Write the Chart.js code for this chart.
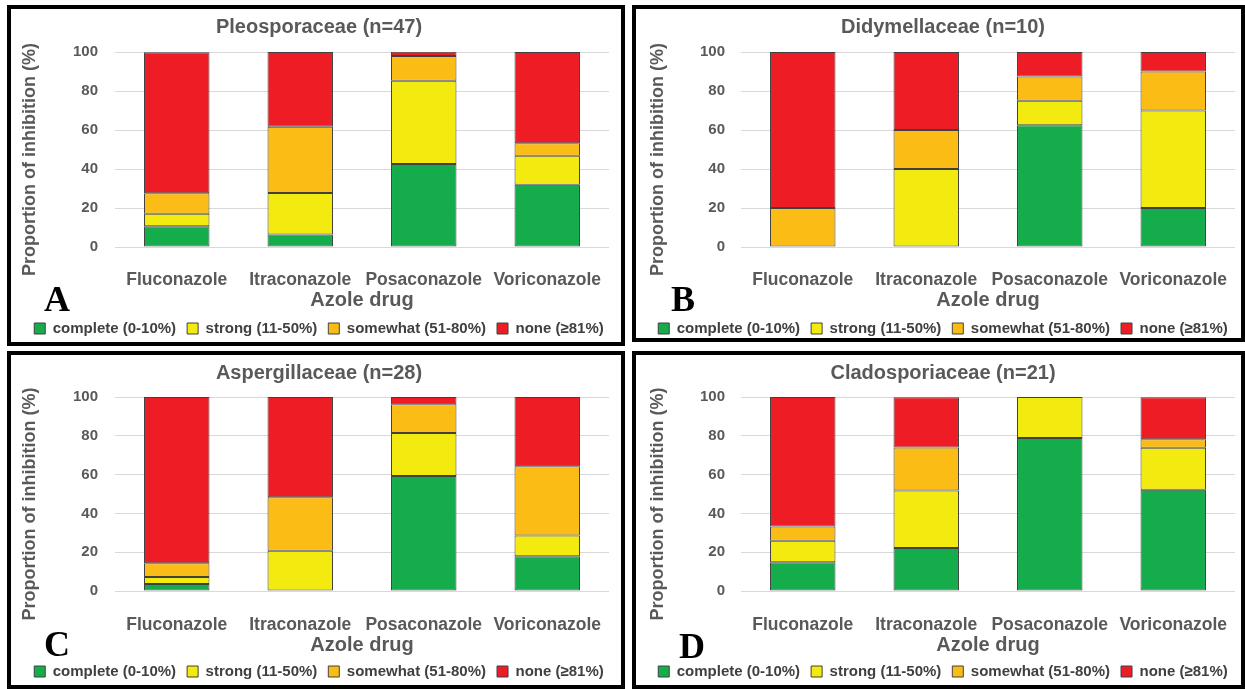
<!DOCTYPE html>
<html>
<head>
<meta charset="utf-8">
<script src="https://cdn.jsdelivr.net/npm/chart.js@4.4.1/dist/chart.umd.min.js"></script>
<style>
body{margin:0;background:#fff;width:1245px;height:689px;overflow:hidden;position:relative;font-family:'Liberation Sans',Arial,sans-serif}
.frame{position:absolute;box-sizing:border-box;border:4px solid #000}
canvas{position:absolute}
.tag{position:absolute;font-family:'Liberation Serif','Times New Roman',serif;font-weight:bold;font-size:36px;line-height:1;color:#000}
</style>
</head>
<body>
<div class="frame" style="left:7px;top:5px;width:618px;height:341px"></div>
<div class="frame" style="left:632px;top:5px;width:613px;height:337px"></div>
<div class="frame" style="left:7px;top:351px;width:618px;height:338px"></div>
<div class="frame" style="left:632px;top:351px;width:613px;height:338px"></div>

<canvas id="cA" width="638" height="346" style="left:0;top:0"></canvas>
<canvas id="cB" width="604" height="346" style="left:641px;top:0"></canvas>
<canvas id="cC" width="638" height="343" style="left:0;top:346px"></canvas>
<canvas id="cD" width="604" height="343" style="left:641px;top:346px"></canvas>

<div class="tag" style="left:44px;top:281px">A</div>
<div class="tag" style="left:671px;top:281px">B</div>
<div class="tag" style="left:44px;top:626px">C</div>
<div class="tag" style="left:679px;top:628px">D</div>

<script>
// categories and legend entries
const drugs = ['Fluconazole', 'Itraconazole', 'Posaconazole', 'Voriconazole'];
const levels = ['complete (0-10%)', 'strong (11-50%)', 'somewhat (51-80%)', 'none (\u226581%)'];
const levelColors = ['#15ad4c', '#f3ea0f', '#fbbd15', '#ee1d25'];

// percent of isolates per inhibition level, one value per drug
const pleoComplete = [10.6, 6.4, 42.6, 31.9];
const pleoStrong   = [6.4, 21.3, 42.6, 14.9];
const pleoSomewhat = [10.6, 34.0, 12.8, 6.4];
const pleoNone     = [72.3, 38.3, 2.1, 46.8];

const didyComplete = [0, 0, 62.5, 20];
const didyStrong   = [0, 40, 12.5, 50];
const didySomewhat = [20, 20, 12.5, 20];
const didyNone     = [80, 40, 12.5, 10];

const aspeComplete = [3.6, 0, 59.3, 17.9];
const aspeStrong   = [3.6, 20.7, 22.2, 10.7];
const aspeSomewhat = [7.1, 27.6, 14.8, 35.7];
const aspeNone     = [85.7, 51.7, 3.7, 35.7];

const cladComplete = [14.8, 22.2, 78.9, 52.2];
const cladStrong   = [11.1, 29.6, 21.1, 21.7];
const cladSomewhat = [7.4, 22.2, 0, 4.3];
const cladNone     = [66.7, 25.9, 0, 21.7];

const yTicks = [0, 20, 40, 60, 80, 100];

const grey = '#595959';
const fam = "'Liberation Sans', Arial, sans-serif";

/*
 * makePanel : draws one stacked bar chart
 * g holds the layout numbers for that canvas
 **/
function makePanel(id, title, series, g) {
  new Chart(document.getElementById(id), {
    type: 'bar',
    data: {
      labels: drugs,
      datasets: series.map((vals, i) => ({
        label: levels[i],
        data: vals,
        backgroundColor: levelColors[i],
        borderColor: '#404040',
        borderWidth: 1,
        borderSkipped: false,
        barPercentage: 0.53,
        categoryPercentage: 1
      }))
    },
    options: {
      responsive: false,
      animation: false,
      layout: { padding: 0 },
      plugins: {
        title: {
          display: true,
          text: title,
          color: grey,
          font: { family: fam, size: 20, weight: 'bold' },
          padding: { top: g.titleTop, bottom: g.titleBottom }
        },
        legend: {
          position: 'bottom',
          labels: {
            color: '#404040',
            boxWidth: 11,
            boxHeight: 11,
            padding: 11,
            font: { family: fam, size: 15, weight: 'bold' }
          }
        },
        tooltip: { enabled: false }
      },
      scales: {
        x: {
          stacked: true,
          grid: { display: false },
          border: { display: false },
          ticks: { color: grey, padding: g.xTickPad, font: { family: fam, size: 17.5, weight: 'bold' } },
          title: {
            display: true,
            text: 'Azole drug',
            color: grey,
            font: { family: fam, size: 20, weight: 'bold' },
            padding: { top: 0, bottom: g.xTitleBottom }
          },
          afterFit: s => { s.height = g.xHeight; }
        },
        y: {
          stacked: true,
          min: 0,
          max: 100,
          afterBuildTicks: s => { s.ticks = yTicks.map(v => ({ value: v })); },
          grid: { color: '#d9d9d9', lineWidth: 1, drawTicks: false },
          border: { display: false },
          ticks: { color: grey, padding: g.tickPad, font: { family: fam, size: 15, weight: 'bold' } },
          title: {
            display: true,
            // trailing spaces push the centred text a little lower, as in the original
            text: 'Proportion of inhibition (%)\u00a0\u00a0\u00a0\u00a0',
            color: grey,
            font: { family: fam, size: 18, weight: 'bold' },
            padding: { top: g.yTitlePad, bottom: 0 }
          },
          afterFit: s => { s.width = g.yWidth; }
        },
        // empty right-hand strip so the title and legend stay centred on the panel
        gap: {
          position: 'right',
          display: true,
          grid: { display: false },
          border: { display: false },
          ticks: { display: false },
          afterFit: s => { s.width = g.rightGap; }
        }
      }
    }
  });
}

const topLeft  = { yWidth: 115, rightGap: 29, tickPad: 17, yTitlePad: 19, titleTop: 15, titleBottom: 13, xHeight: 63, xTickPad: 15, xTitleBottom: -2 };
const topRight = { yWidth: 100, rightGap: 10, tickPad: 16, yTitlePad: 6, titleTop: 15, titleBottom: 13, xHeight: 63, xTickPad: 15, xTitleBottom: -2 };
const botLeft  = { yWidth: 115, rightGap: 29, tickPad: 17, yTitlePad: 19, titleTop: 15, titleBottom: 12, xHeight: 62, xTickPad: 16, xTitleBottom: -4 };
const botRight = { yWidth: 100, rightGap: 10, tickPad: 16, yTitlePad: 6, titleTop: 15, titleBottom: 12, xHeight: 62, xTickPad: 16, xTitleBottom: -4 };

makePanel('cA', 'Pleosporaceae (n=47)', [pleoComplete, pleoStrong, pleoSomewhat, pleoNone], topLeft);
makePanel('cB', 'Didymellaceae (n=10)', [didyComplete, didyStrong, didySomewhat, didyNone], topRight);
makePanel('cC', 'Aspergillaceae (n=28)', [aspeComplete, aspeStrong, aspeSomewhat, aspeNone], botLeft);
makePanel('cD', 'Cladosporiaceae (n=21)', [cladComplete, cladStrong, cladSomewhat, cladNone], botRight);
</script>
</body>
</html>
